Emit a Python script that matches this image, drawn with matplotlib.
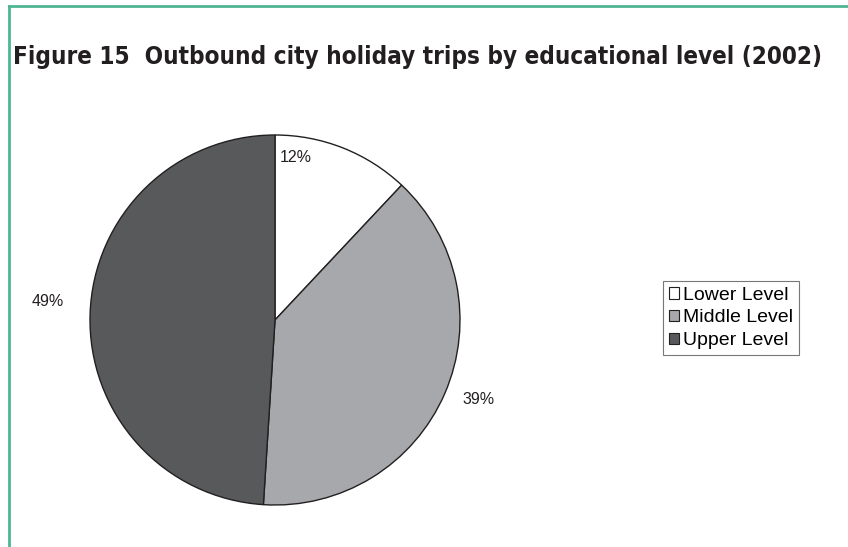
import matplotlib.pyplot as plt
from matplotlib.patches import Patch
from matplotlib.lines import Line2D

levels = ["Lower Level", "Middle Level", "Upper Level"]
shares = [12, 39, 49]
colors = ["#ffffff", "#a7a8ab", "#58595b"]
# where each percentage sits, in pie radius units
label_xy = [(0.11, 0.88), (1.10, -0.43), (-1.23, 0.10)]

fig = plt.figure(figsize=(8.48, 5.47), dpi=100)

# green frame along the top and left edge
fig.add_artist(Line2D([9 / 848, 1], [1 - 6 / 547, 1 - 6 / 547], color="#4fb493", lw=2))
fig.add_artist(Line2D([9 / 848, 9 / 848], [0, 1 - 6 / 547], color="#4fb493", lw=2))

fig.text(13 / 848, 1 - 57 / 547,
         "Figure 15  Outbound city holiday trips by educational level (2002)",
         fontsize=17.4, fontweight="heavy", color="#231f20", va="center",
         family="DejaVu Sans", stretch="condensed")

ax = fig.add_axes([90 / 848, (547 - 320 - 185) / 547, 370 / 848, 370 / 547])
ax.pie(shares, colors=colors, startangle=90, counterclock=False, radius=1,
       wedgeprops=dict(edgecolor="#231f20", linewidth=1))
ax.set_xlim(-1, 1)
ax.set_ylim(-1, 1)
ax.set_aspect("auto")
ax.axis("off")

for v, (x, y) in zip(shares, label_xy):
    ax.text(x, y, "%d%%" % v, ha="center", va="center", fontsize=11.5,
            family="Liberation Sans", color="#231f20", clip_on=False)

handles = [Patch(facecolor=c, edgecolor="#231f20", linewidth=0.8) for c in colors]
leg = fig.legend(handles, levels, loc="center", bbox_to_anchor=(731 / 848, 1 - 318 / 547),
                 prop={"family": "Liberation Sans", "size": 14}, frameon=True,
                 fancybox=False, edgecolor="#555555", handlelength=0.55, handleheight=0.55,
                 handletextpad=0.2, borderpad=0.3, labelspacing=0.3, borderaxespad=0)
leg.get_frame().set_linewidth(0.8)

fig.savefig("out.png", dpi=100)
